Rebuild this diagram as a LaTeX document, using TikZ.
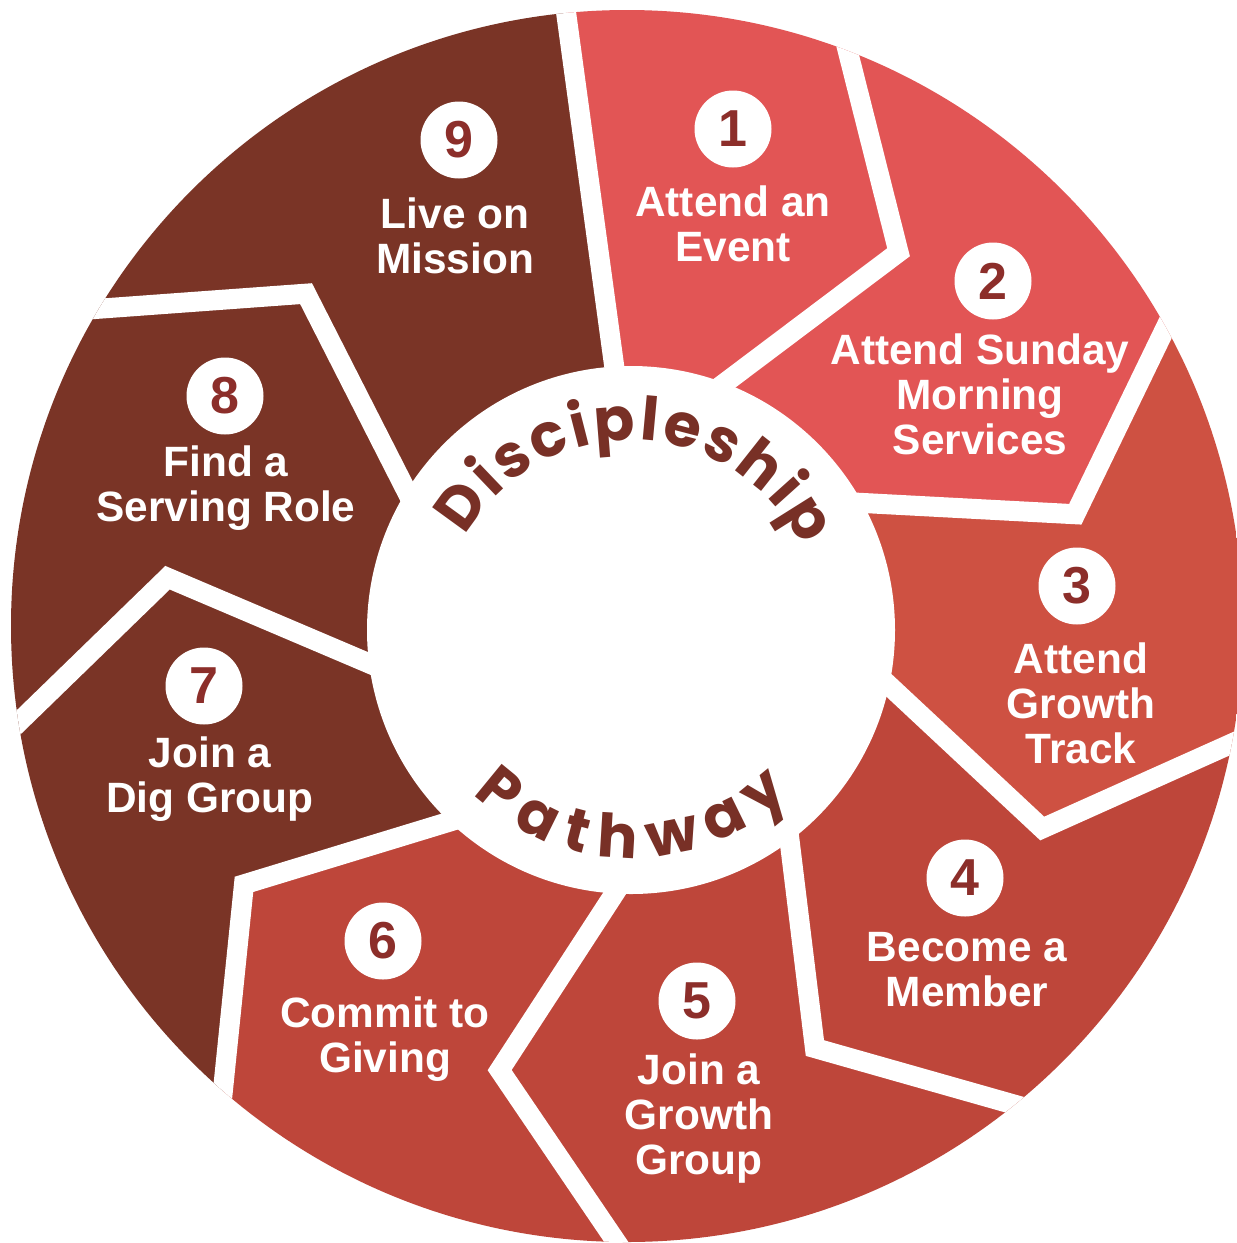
\documentclass[tikz,border=0pt]{standalone}
\usepackage{fontspec}
\setmainfont{Liberation Sans}
\newfontfamily\arcfont{Poppins}
\usetikzlibrary{calc,decorations.text}
\definecolor{segA}{RGB}{226,85,85}
\definecolor{segB}{RGB}{206,81,66}
\definecolor{segC}{RGB}{190,70,58}
\definecolor{segD}{RGB}{122,52,38}
\definecolor{numcol}{RGB}{140,46,42}
\definecolor{arctext}{RGB}{120,48,38}
\begin{document}
\begin{tikzpicture}[x=0.5pt,y=0.5pt,
  lbl/.style={text=white, align=center, font=\bfseries\fontsize{21.2}{22.5}\selectfont, inner sep=0pt, anchor=base},
  numc/.style={circle, fill=white, minimum size=38.5pt, inner sep=0pt, text=numcol, font=\bfseries\fontsize{26}{26}\selectfont},
  sepline/.style={white, line width=10pt, line join=miter}]
\useasboundingbox (0,0) rectangle (1237,-1243);
\fill[white] (0,0) rectangle (1237,-1243);
\coordinate (C) at (627,-626);
\coordinate (Ci) at (631,-630);
% separator 9|1 (straight)
\coordinate (O0) at (566,-12);
\coordinate (I0) at (612,-350);
\coordinate (OE0) at ($(I0)!1.3!(O0)$);
\coordinate (IE0) at ($(O0)!1.25!(I0)$);
% chevron separators
\foreach \k/\a in {1/69,2/29,3/-11,4/-51,5/-91,6/-131,7/-171,8/-211} {
  \coordinate (O\k) at ($(C)+(\a:616)$);
  \coordinate (T\k) at ($(C)+(\a-15:462)$);
  \coordinate (I\k) at ($(C)+(\a-1.7:268)$);
  \coordinate (OE\k) at ($(T\k)!1.5!(O\k)$);
  \coordinate (IE\k) at ($(T\k)!1.3!(I\k)$);
  \coordinate (F\k) at ($(C)+(\a+20:900)$);
}
\coordinate (F9a) at ($(C)+(131:900)$);
\coordinate (F9b) at ($(C)+(113:900)$);
\begin{scope}
  \clip (C) circle (616);
  \fill[segA] (C) -- (IE0) -- (OE0) -- (F1) -- (OE1) -- (T1) -- (IE1) -- cycle;
  \fill[segA] (C) -- (IE1) -- (T1) -- (OE1) -- (F2) -- (OE2) -- (T2) -- (IE2) -- cycle;
  \fill[segB] (C) -- (IE2) -- (T2) -- (OE2) -- (F3) -- (OE3) -- (T3) -- (IE3) -- cycle;
  \fill[segC] (C) -- (IE3) -- (T3) -- (OE3) -- (F4) -- (OE4) -- (T4) -- (IE4) -- cycle;
  \fill[segC] (C) -- (IE4) -- (T4) -- (OE4) -- (F5) -- (OE5) -- (T5) -- (IE5) -- cycle;
  \fill[segC] (C) -- (IE5) -- (T5) -- (OE5) -- (F6) -- (OE6) -- (T6) -- (IE6) -- cycle;
  \fill[segD] (C) -- (IE6) -- (T6) -- (OE6) -- (F7) -- (OE7) -- (T7) -- (IE7) -- cycle;
  \fill[segD] (C) -- (IE7) -- (T7) -- (OE7) -- (F8) -- (OE8) -- (T8) -- (IE8) -- cycle;
  \fill[segD] (C) -- (IE8) -- (T8) -- (OE8) -- (F9a) -- (F9b) -- (OE0) -- (IE0) -- cycle;
  \draw[sepline] (IE0) -- (OE0);
  \foreach \k in {1,...,8} { \draw[sepline] (IE\k) -- (T\k) -- (OE\k); }
\end{scope}
\fill[white] (Ci) circle (264);
% curved texts
\path[decorate, decoration={text along path, text color=arctext, text align=fit to path,
  text={|\arcfont\bfseries\fontsize{30}{30}\selectfont|Discipleship}}]
  ($(Ci)+(150.5:190)$) arc[start angle=150.5, end angle=26, radius=190];
\path[decorate, decoration={text along path, text color=arctext, text align=fit to path,
  text={|\arcfont\bfseries\fontsize{30}{30}\selectfont|Pathway}}]
  ($(Ci)+(-134:228)$) arc[start angle=-134, end angle=-46, radius=228];
% numbers
\node[numc] (n1) at (733,-129) {1};
\node[numc] (n2) at (993,-281) {2};
\node[numc] (n3) at (1077,-586) {3};
\node[numc] (n4) at (965,-878) {4};
\node[numc] (n5) at (697,-1001) {5};
\node[numc] (n6) at (383,-941) {6};
\node[numc] (n7) at (204,-686) {7};
\node[numc] (n8) at (225,-396) {8};
\node[numc] (n9) at (459,-140) {9};
% labels (anchor = baseline of the last line)
\node[lbl] (l1) at (733,-261) {Attend an\\Event};
\node[lbl] (l2) at (980,-454) {Attend Sunday\\Morning\\Services};
\node[lbl] (l3) at (1081,-763) {Attend\\Growth\\Track};
\node[lbl] (l4) at (967,-1006) {Become a\\Member};
\node[lbl] (l5) at (699,-1174) {Join a\\Growth\\Group};
\node[lbl] (l6) at (385,-1072) {Commit to\\Giving};
\node[lbl] (l7) at (210,-812) {Join a\\Dig Group};
\node[lbl] (l8) at (226,-521) {Find a\\Serving Role};
\node[lbl] (l9) at (455,-273) {Live on\\Mission};
\end{tikzpicture}
\end{document}
